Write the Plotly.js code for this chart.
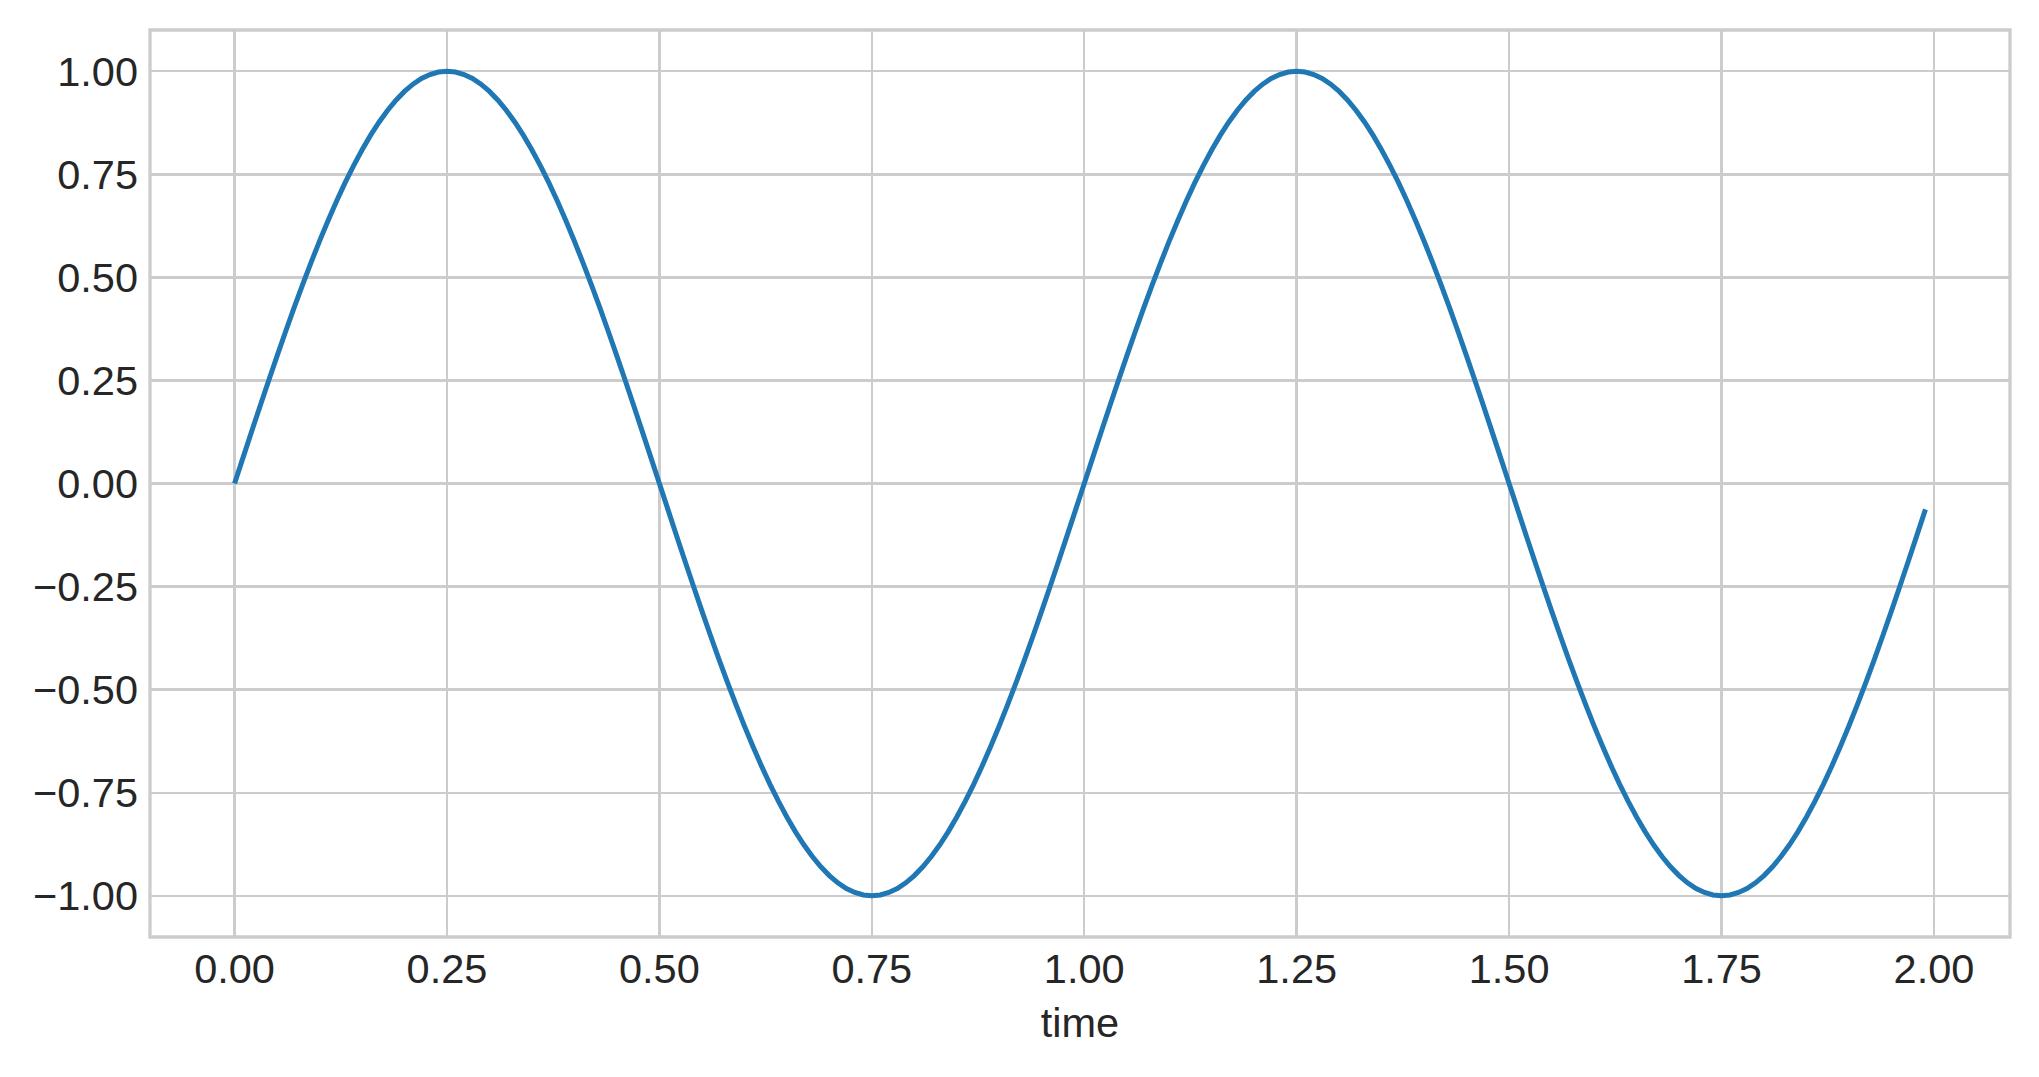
<!DOCTYPE html>
<html>
<head>
<meta charset="utf-8">
<script src="https://cdn.plot.ly/plotly-3.0.1.min.js"></script>
<style>html,body{margin:0;padding:0;background:#fff;}#chart{width:2039px;height:1077px;}</style>
</head>
<body>
<div id="chart"></div>
<script>
// time starts at 0 and steps by 0.01 (200 samples, 0.00 .. 1.99)
var timeStart = 0;
var timeStep = 0.01;
var signal = [
  0, 0.0628, 0.1253, 0.1874, 0.2487, 0.309, 0.3681, 0.4258, 0.4818, 0.5358,
  0.5878, 0.6374, 0.6845, 0.729, 0.7705, 0.809, 0.8443, 0.8763, 0.9048, 0.9298,
  0.9511, 0.9686, 0.9823, 0.9921, 0.998, 1, 0.998, 0.9921, 0.9823, 0.9686,
  0.9511, 0.9298, 0.9048, 0.8763, 0.8443, 0.809, 0.7705, 0.729, 0.6845, 0.6374,
  0.5878, 0.5358, 0.4818, 0.4258, 0.3681, 0.309, 0.2487, 0.1874, 0.1253, 0.0628,
  0, -0.0628, -0.1253, -0.1874, -0.2487, -0.309, -0.3681, -0.4258, -0.4818, -0.5358,
  -0.5878, -0.6374, -0.6845, -0.729, -0.7705, -0.809, -0.8443, -0.8763, -0.9048, -0.9298,
  -0.9511, -0.9686, -0.9823, -0.9921, -0.998, -1, -0.998, -0.9921, -0.9823, -0.9686,
  -0.9511, -0.9298, -0.9048, -0.8763, -0.8443, -0.809, -0.7705, -0.729, -0.6845, -0.6374,
  -0.5878, -0.5358, -0.4818, -0.4258, -0.3681, -0.309, -0.2487, -0.1874, -0.1253, -0.0628,
  0, 0.0628, 0.1253, 0.1874, 0.2487, 0.309, 0.3681, 0.4258, 0.4818, 0.5358,
  0.5878, 0.6374, 0.6845, 0.729, 0.7705, 0.809, 0.8443, 0.8763, 0.9048, 0.9298,
  0.9511, 0.9686, 0.9823, 0.9921, 0.998, 1, 0.998, 0.9921, 0.9823, 0.9686,
  0.9511, 0.9298, 0.9048, 0.8763, 0.8443, 0.809, 0.7705, 0.729, 0.6845, 0.6374,
  0.5878, 0.5358, 0.4818, 0.4258, 0.3681, 0.309, 0.2487, 0.1874, 0.1253, 0.0628,
  0, -0.0628, -0.1253, -0.1874, -0.2487, -0.309, -0.3681, -0.4258, -0.4818, -0.5358,
  -0.5878, -0.6374, -0.6845, -0.729, -0.7705, -0.809, -0.8443, -0.8763, -0.9048, -0.9298,
  -0.9511, -0.9686, -0.9823, -0.9921, -0.998, -1, -0.998, -0.9921, -0.9823, -0.9686,
  -0.9511, -0.9298, -0.9048, -0.8763, -0.8443, -0.809, -0.7705, -0.729, -0.6845, -0.6374,
  -0.5878, -0.5358, -0.4818, -0.4258, -0.3681, -0.309, -0.2487, -0.1874, -0.1253, -0.0628
];
var xTickVals = [0, 0.25, 0.5, 0.75, 1, 1.25, 1.5, 1.75, 2];
var xTickText = ["0.00", "0.25", "0.50", "0.75", "1.00", "1.25", "1.50", "1.75", "2.00"];
var yTickVals = [1, 0.75, 0.5, 0.25, 0, -0.25, -0.5, -0.75, -1];
var yTickText = ["1.00", "0.75", "0.50", "0.25", "0.00", "\u22120.25", "\u22120.50", "\u22120.75", "\u22121.00"];
var xLabel = "time";

var font = {family: "Liberation Sans, Arial, sans-serif", size: 41.5, color: "#262626"};
var gridColor = "#cccccc";

var trace = {
  type: "scatter",
  mode: "lines",
  x0: timeStart,
  dx: timeStep,
  y: signal,
  line: {color: "#1f77b4", width: 5, simplify: false},
  hoverinfo: "skip",
  showlegend: false
};

var layout = {
  width: 2039,
  height: 1077,
  margin: {l: 150, r: 29, t: 30, b: 140, pad: 0},
  paper_bgcolor: "#ffffff",
  plot_bgcolor: "#ffffff",
  font: font,
  showlegend: false,
  xaxis: {
    range: [-0.0995, 2.0895],
    tickvals: xTickVals,
    ticktext: xTickText,
    ticks: "",
    showgrid: true,
    gridcolor: gridColor,
    gridwidth: 2.4,
    zeroline: false,
    showline: false,
    ticklabelstandoff: 3,
    tickfont: font,
    automargin: false,
    title: {text: xLabel, font: font, standoff: 17}
  },
  yaxis: {
    range: [-1.1, 1.1],
    tickvals: yTickVals,
    ticktext: yTickText,
    ticks: "",
    showgrid: true,
    gridcolor: gridColor,
    gridwidth: 2.4,
    zeroline: false,
    showline: false,
    ticklabelstandoff: 11,
    tickfont: font,
    automargin: false
  },
  shapes: [{
    type: "rect", xref: "paper", yref: "paper",
    x0: 0, x1: 1, y0: 0, y1: 1,
    line: {color: gridColor, width: 3.3},
    fillcolor: "rgba(0,0,0,0)",
    layer: "above"
  }]
};

Plotly.newPlot("chart", [trace], layout, {displayModeBar: false, staticPlot: true});
</script>
</body>
</html>
